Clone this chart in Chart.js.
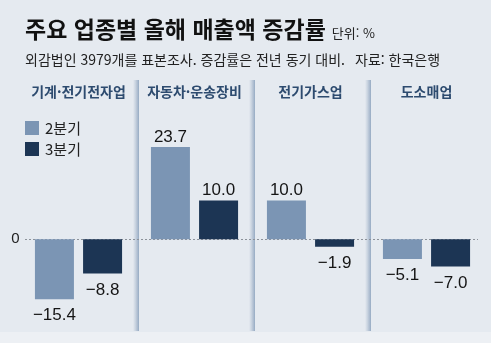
<!DOCTYPE html>
<html lang="ko">
<head>
<meta charset="utf-8">
<script src="https://cdn.jsdelivr.net/npm/chart.js@4/dist/chart.umd.min.js"></script>
<style>
  html, body { margin: 0; padding: 0; }
  body { width: 491px; height: 343px; background: #e5eaf0; position: relative; overflow: hidden; }
  #band { position: absolute; left: 0; top: 332px; width: 491px; height: 11px; background: #edf0f4; }
  #chartSales { position: absolute; left: 0; top: 0; }
  .title { position: absolute; left: 25px; top: 17px; font: bold 23px/23px "Noto Sans CJK KR", sans-serif; color: #111; white-space: nowrap; }
  .title small { font: 13px "Noto Sans CJK KR", sans-serif; color: #222; margin-left: 6px; }
  .sub { position: absolute; top: 52px; font: 14px/14px "Noto Sans CJK KR", sans-serif; color: #222; white-space: nowrap; }
</style>
</head>
<body>
<div id="band"></div>
<canvas id="chartSales" width="491" height="343"></canvas>
<div class="title">주요 업종별 올해 매출액 증감률<small>단위: %</small></div>
<div class="sub" style="left:25px">외감법인 3979개를 표본조사. 증감률은 전년 동기 대비.</div>
<div class="sub" style="left:355px">자료: 한국은행</div>
<script>
// 데이터
const categories = ['기계·전기전자업', '자동차·운송장비', '전기가스업', '도소매업'];
const seriesNames = ['2분기', '3분기'];
const q2Values = [-15.4, 23.7, 10.0, -5.1];
const q3Values = [-8.8, 10.0, -1.9, -7.0];

const colors = ['#7b95b4', '#1c3554'];

// 업종 제목, 구분선, 0 기준선
const framePlugin = {
  id: 'frame',
  beforeDatasetsDraw(chart) {
    const ctx = chart.ctx;
    const x = chart.scales.x;
    const y = chart.scales.y;
    const y0 = y.getPixelForValue(0);

    // 구분선 (업종 사이)
    for (let i = 0; i < categories.length - 1; i++) {
      const bx = (x.getPixelForValue(i) + x.getPixelForValue(i + 1)) / 2 + 2.5;
      const g = ctx.createLinearGradient(bx - 6, 0, bx, 0);
      g.addColorStop(0, 'rgba(166,183,203,0)');
      g.addColorStop(1, 'rgba(150,170,195,1)');
      ctx.fillStyle = g;
      ctx.fillRect(bx - 6, 80, 6, 251);
    }

    // 0 기준선
    ctx.save();
    ctx.strokeStyle = '#8c929a';
    ctx.lineWidth = 1;
    ctx.setLineDash([2, 2]);
    ctx.beginPath();
    ctx.moveTo(25, Math.round(y0) + 0.5);
    ctx.lineTo(478, Math.round(y0) + 0.5);
    ctx.stroke();
    ctx.restore();

    // 업종 이름
    ctx.save();
    ctx.font = 'bold 14px "Noto Sans CJK KR", sans-serif';
    ctx.fillStyle = '#2d4b6f';
    ctx.textAlign = 'center';
    ctx.textBaseline = 'middle';
    categories.forEach((c, i) => {
      ctx.fillText(c, x.getPixelForValue(i), 92);
    });
    ctx.restore();
  },
  afterDatasetsDraw(chart) {
    const ctx = chart.ctx;
    ctx.save();
    ctx.font = '17px "Liberation Sans", Arial, sans-serif';
    ctx.fillStyle = '#151515';
    ctx.textAlign = 'center';
    ctx.textBaseline = 'alphabetic';
    chart.data.datasets.forEach((ds, di) => {
      const meta = chart.getDatasetMeta(di);
      meta.data.forEach((bar, i) => {
        const v = ds.data[i];
        const label = v.toFixed(1).replace('-', '\u2212');
        if (v >= 0) {
          ctx.fillText(label, bar.x, bar.y - 5);
        } else {
          ctx.fillText(label, bar.x, bar.y + 21);
        }
      });
    });

    // 범례
    ctx.font = '15px "Noto Sans CJK KR", sans-serif';
    ctx.textAlign = 'left';
    ctx.textBaseline = 'middle';
    chart.data.datasets.forEach((ds, di) => {
      const top = 121 + di * 21;
      ctx.fillStyle = ds.backgroundColor;
      ctx.fillRect(25, top, 14, 14);
      ctx.fillStyle = '#222';
      ctx.fillText(ds.label, 45, top + 7);
    });
    ctx.restore();
  }
};

const chart = new Chart(document.getElementById('chartSales'), {
  type: 'bar',
  data: {
    labels: categories,
    datasets: [
      { label: seriesNames[0], data: q2Values, backgroundColor: colors[0] },
      { label: seriesNames[1], data: q3Values, backgroundColor: colors[1] }
    ]
  },
  options: {
    responsive: false,
    animation: false,
    devicePixelRatio: 1,
    categoryPercentage: 0.83,
    barPercentage: 0.81,
    layout: { padding: { left: 0, right: 6.5, top: 108, bottom: 13 } },
    plugins: {
      legend: { display: false },
      tooltip: { enabled: false }
    },
    scales: {
      x: { display: false },
      y: {
        min: -23.32,
        max: 33.75,
        grid: { display: false, drawTicks: false },
        border: { display: false },
        afterBuildTicks(scale) { scale.ticks = [{ value: 0 }]; },
        afterFit(scale) { scale.width = 20.5; },
        ticks: {
          padding: 1,
          color: '#222',
          font: { family: '"Liberation Sans", Arial, sans-serif', size: 15 }
        }
      }
    }
  },
  plugins: [framePlugin]
});
</script>
</body>
</html>
